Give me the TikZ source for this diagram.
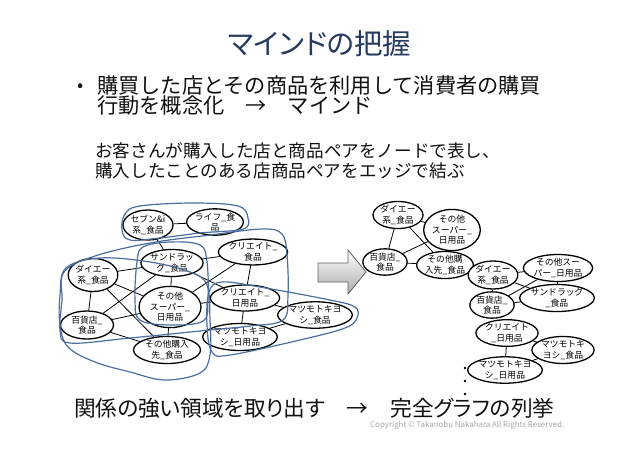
\documentclass[tikz,border=0pt]{standalone}
\usepackage{fontspec}
\setmainfont{Noto Sans CJK JP}[RawFeature=+palt]
\newfontfamily\jpmono{Noto Sans CJK JP}
\usetikzlibrary{shapes.geometric}
\definecolor{titlec}{HTML}{243A5E}
\definecolor{blobc}{HTML}{4A6E9E}
\definecolor{txtc}{HTML}{111111}
\pgfdeclarelayer{bg}\pgfdeclarelayer{fg}\pgfsetlayers{bg,main,fg}
\tikzset{
  nd/.style={ellipse, draw=black, line width=1.3pt, fill=white, inner sep=0pt, align=center, font=\jpmono\fontsize{8.8}{10.5}\selectfont},
  ed/.style={draw=black, line width=0.8pt},
  blob/.style={draw=blobc, line width=1.2pt, smooth cycle, tension=0.6},
  txt/.style={anchor=west, inner sep=0pt, text=txtc},
}
\begin{document}
\begin{tikzpicture}[x=1pt,y=-1pt]
\useasboundingbox (0,0) rectangle (638,451);
% titles and texts
\node[text=titlec, font=\fontsize{28.5}{30}\selectfont] (title) at (320,44) {マインドの把握};
\node[txt, font=\fontsize{18}{20}\selectfont] (bul) at (77,88) {•};
\node[txt, font=\jpmono\fontsize{21.2}{24}\selectfont, text height=15pt, text depth=3pt] (l1) at (97,87) {購買した店とその商品を利用して消費者の購買};
\node[txt, font=\jpmono\fontsize{21.2}{24}\selectfont, text height=15pt, text depth=3pt] (l2) at (97,107) {行動を概念化　→　マインド};
\node[txt, font=\jpmono\fontsize{17.6}{20}\selectfont] (l3) at (95,151) {お客さんが購入した店と商品ペアをノードで表し、};
\node[txt, font=\jpmono\fontsize{17.6}{20}\selectfont] (l4) at (95,171) {購入したことのある店商品ペアをエッジで結ぶ};
\node[txt, font=\fontsize{21.7}{24}\selectfont] (bot) at (74,408) {関係の強い領域を取り出す　→　完全グラフの列挙};
\node[anchor=west, inner sep=0pt, text=gray!70, font=\fontsize{7.9}{8}\selectfont] (copy) at (370,425) {Copyright © Takanobu Nakahara All Rights Reserved.};
% left graph nodes
\node[nd, minimum width=50, minimum height=30] (s7) at (148,225) {セブン\&i\\系\_食品};
\node[nd, minimum width=44, minimum height=22] (life) at (215,222) {ライフ\_食\\品};
\node[nd, minimum width=57, minimum height=27] (sand) at (172,263) {サンドラッ\\グ\_食品};
\node[nd, minimum width=58, minimum height=25] (crf) at (253,252) {クリエイト\_\\食品};
\node[nd, minimum width=48, minimum height=33] (daie) at (93,275) {ダイエー\\系\_食品};
\node[nd, minimum width=62, minimum height=35] (sup) at (170,307) {その他\\スーパー\_\\日用品};
\node[nd, minimum width=57, minimum height=25] (crn) at (245,298) {クリエイト\_\\日用品};
\node[nd, minimum width=68, minimum height=23] (mkf) at (315,315) {マツモトキヨ\\シ\_食品};
\node[nd, minimum width=53, minimum height=28] (dep) at (87,325) {百貨店\_\\食品};
\node[nd, minimum width=59, minimum height=27] (mkn) at (240,337) {マツモトキヨ\\シ\_日用品};
\node[nd, minimum width=67, minimum height=27] (oth) at (167,350) {その他購入\\先\_食品};
% right graph nodes
\node[nd, minimum width=50, minimum height=24] (a1) at (398,215) {ダイエー\\系\_食品};
\node[nd, minimum width=50, minimum height=28] (b1) at (452,230) {その他\\スーパー\_\\日用品};
\node[nd, minimum width=37, minimum height=24] (c1) at (385,262) {百貨店\_\\食品};
\node[nd, minimum width=53, minimum height=21] (d1) at (445,265) {その他購\\入先\_食品};
\node[nd, minimum width=44, minimum height=28] (a2) at (493,275) {ダイエー\\系\_食品};
\node[nd, minimum width=62, minimum height=23] (b2) at (558,268) {その他スー\\パー\_日用品};
\node[nd, minimum width=43, minimum height=22] (c2) at (492,305) {百貨店\_\\食品};
\node[nd, minimum width=60, minimum height=23] (e2) at (557,298) {サンドラッグ\\\_食品};
\node[nd, minimum width=45, minimum height=25] (f3) at (507,333) {クリエイト\\\_日用品};
\node[nd, minimum width=52, minimum height=27] (g3) at (563,350) {マツモトキ\\ヨシ\_食品};
\node[nd, minimum width=64, minimum height=23] (h3) at (505,370) {マツモトキヨ\\シ\_日用品};
% edges
\begin{pgfonlayer}{bg}
\foreach \a/\b in {s7/life, s7/sand, daie/sand, sand/crf, sand/sup, sand/dep, sand/crn, crf/sup, crf/crn, daie/sup, daie/dep, daie/oth, dep/sup, dep/oth, sup/oth, sup/crn, crn/mkf, crn/mkn, mkn/mkf,
  a1/b1, a1/c1, a1/d1, b1/c1, b1/d1, c1/d1, a2/b2, a2/c2, a2/e2, b2/c2, b2/e2, c2/e2, f3/g3, f3/h3, g3/h3}
  \draw[ed] (\a) -- (\b);
\end{pgfonlayer}
% clusters
\begin{pgfonlayer}{fg}
\draw[blob] plot coordinates {(122,230) (125,214) (140,206) (193,203) (238,206) (248,218) (243,229) (200,233) (160,238) (130,240)};
\draw[blob] plot coordinates {(137,262) (143,247) (170,242) (200,245) (207,262) (208,300) (203,321) (170,325) (140,320) (135,300)};
\draw[blob] plot coordinates {(62,300) (64,272) (95,256) (150,243) (210,235) (262,229) (282,234) (287,255) (288,295) (283,320) (250,326) (210,330) (130,338) (70,343) (60,330)};
\draw[blob] plot coordinates {(60,295) (66,268) (100,258) (150,262) (190,272) (207,285) (210,320) (210,355) (200,373) (165,380) (130,372) (95,362) (68,347) (60,325)};
\draw[blob] plot coordinates {(209,292) (222,282) (260,287) (330,300) (355,307) (357,318) (345,328) (300,340) (230,355) (212,352) (207,325)};
\end{pgfonlayer}
% block arrow
\shade[top color=white, bottom color=gray!65, draw=gray!75!black, line width=0.8pt]
  (318,263) -- (348,263) -- (348,250) -- (366,272) -- (348,294) -- (348,282) -- (318,282) -- cycle;
% continuation dots
\fill (465,368) circle (1.3);
\fill (465,381) circle (1.3);
\fill (465,394) circle (1.3);
\end{tikzpicture}
\end{document}
